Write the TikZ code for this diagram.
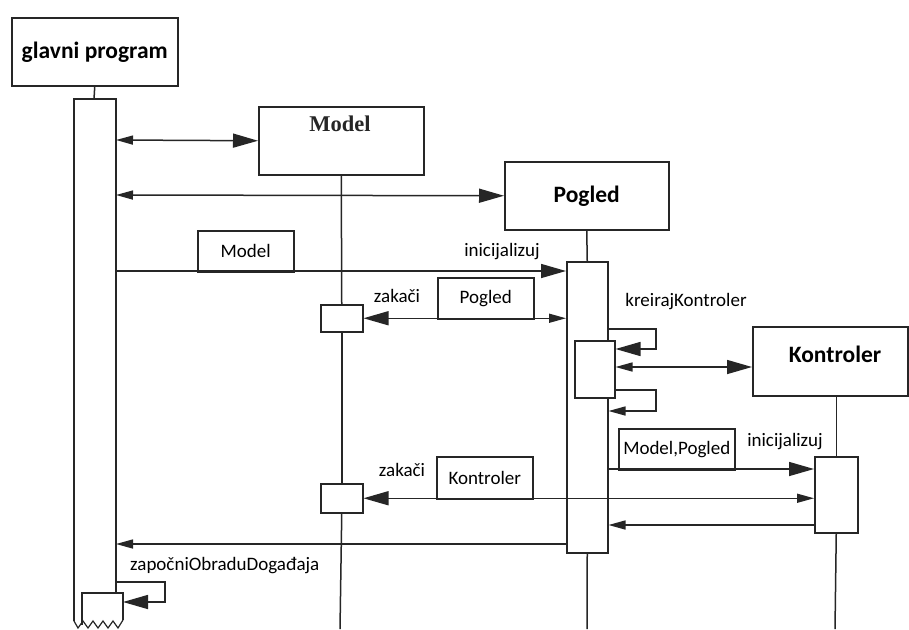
\documentclass[tikz,border=0pt]{standalone}
\usepackage{fontspec}
\newfontfamily\calibri{Carlito}
\newfontfamily\timesb{Liberation Serif}
\usetikzlibrary{arrows.meta}
\tikzset{
  BigT/.tip={Triangle[length=25pt,width=14pt]},
  SmT/.tip={Triangle[length=17pt,width=9pt]},
  ln/.style={line width=1.5pt, draw=black!85},
  box/.style={ln, rectangle, inner sep=0pt, anchor=north west, fill=white},
  lbl/.style={font=\calibri\fontsize{19}{22}\selectfont, inner sep=0pt, text=black},
  ttl/.style={font=\calibri\bfseries\fontsize{23.5}{26}\selectfont, inner sep=0pt},
}
\begin{document}
\begin{tikzpicture}[x=1pt,y=-1pt]
\fill[white] (0,0) rectangle (909,629);
\useasboundingbox (0,0) rectangle (909,629);

% object boxes
\node[box, minimum width=166pt, minimum height=68pt, ttl] (gp) at (11,17) {glavni program};
\node[box, minimum width=165pt, minimum height=68pt] (mdl) at (258,106) {};
\node[font=\timesb\bfseries\fontsize{22.5}{26}\selectfont, inner sep=0pt, text=black!85] (mdlT) at (340,124) {Model};
\node[box, minimum width=164pt, minimum height=68pt, ttl] (pog) at (504,161) {Pogled};
\node[box, minimum width=155pt, minimum height=69pt] (kon) at (752,326) {};
\node[ttl] (konT) at (835,354) {Kontroler};

% activation boxes
\node[box, minimum width=41pt, minimum height=291pt] (actP) at (566,261) {};
\node[box, minimum width=40pt, minimum height=57pt] (actP2) at (574,340) {};
\node[box, minimum width=43pt, minimum height=76pt] (actK) at (814,456) {};
\node[box, minimum width=42pt, minimum height=27pt] (mb1) at (320,304) {};
\node[box, minimum width=42pt, minimum height=29pt] (mb2) at (320,483) {};

% main program activation (torn off at the bottom)
\coordinate (gTop) at (94,99);
\draw[ln] (74,621) -- (74,99) -- (116,99) -- (116,593);
\draw[ln, fill=white] (82,625) -- (82,593) -- (123,593) -- (123,620);
\draw[ln, line width=1.2pt] (74,621) -- (78,628) -- (83,621) -- (88,628) -- (93,621) -- (98,628)
  -- (103,621) -- (108,628) -- (113,621) -- (118,628) -- (123,620);

% lifelines
\coordinate (mEnd) at (340,629);
\coordinate (pEnd) at (587,629);
\coordinate (kEnd) at (835,629);
\draw[ln] (gp.south) -- (gTop);
\draw[ln] (mdl.south) -- (mb1.north);
\draw[ln] (mb1.south) -- (mb2.north);
\draw[ln] (mb2.south) -- (mEnd);
\draw[ln] (pog.south) -- (actP.north);
\draw[ln] (actP.south) -- (pEnd);
\draw[ln] (actK.north |- kon.south) -- (actK.north);
\draw[ln] (actK.south) -- (kEnd);

% points on the main activation
\coordinate (gA) at (116,140);
\coordinate (gB) at (116,195);
\coordinate (gC) at (116,271);
\coordinate (gD) at (116,544);
\coordinate (gE) at (116,582);
\coordinate (gF) at (123,602);

% messages
\draw[ln, {SmT}-{BigT}] (gA) -- (mdl.west);
\draw[ln, {SmT}-{BigT}] (gB) -- (pog.west);

\node[box, lbl, minimum width=96pt, minimum height=41pt] (bModel) at (197,230) {Model};
\draw[ln, -{BigT}] (gC) -- (gC -| actP.west);
\node[lbl] (lInit1) at (502,252) {inicijalizuj};

\node[box, lbl, minimum width=96pt, minimum height=41pt] (bPogled) at (437,277) {Pogled};
\draw[ln, {BigT}-{SmT}] (mb1.east) -- (mb1.east -| actP.west);
\node[lbl] (lZak1) at (397,296) {zakači};

\node[lbl] (lKreiraj) at (686,302) {kreirajKontroler};
\coordinate (s1a) at (656,329);
\coordinate (s1b) at (656,349);
\draw[ln, -{BigT}] (s1a -| actP.east) -- (s1a) -- (s1b) -- (s1b -| actP2.east);

\coordinate (pk) at (614,367);
\draw[ln, {SmT}-{BigT}] (pk -| actP2.east) -- (pk -| kon.west);

\coordinate (s2a) at (656,390);
\coordinate (s2b) at (656,411);
\draw[ln, -{SmT}] (s2a -| actP2.east) -- (s2a) -- (s2b) -- (s2b -| actP.east);

\node[box, lbl, minimum width=116pt, minimum height=41pt] (bMP) at (618,428) {Model,Pogled};
\coordinate (m8) at (700,469);
\draw[ln, -{BigT}] (m8 -| actP.east) -- (m8 -| actK.west);
\node[lbl] (lInit2) at (785,442) {inicijalizuj};

\node[box, lbl, minimum width=96pt, minimum height=42pt] (bKon) at (436,456) {Kontroler};
\draw[ln, {BigT}-{SmT}] (mb2.east) -- (mb2.east -| actK.west);
\node[lbl] (lZak2) at (402,470) {zakači};

\coordinate (m10) at (700,525);
\draw[ln, -{SmT}] (m10 -| actK.west) -- (m10 -| actP.east);

\draw[ln, -{SmT}] (gD -| actP.west) -- (gD);
\node[lbl, anchor=west] (lZap) at (130,566) {započniObraduDogađaja};

\coordinate (s3a) at (165,582);
\coordinate (s3b) at (165,602);
\draw[ln, -{BigT}] (gE) -- (s3a) -- (s3b) -- (gF);
\end{tikzpicture}
\end{document}
